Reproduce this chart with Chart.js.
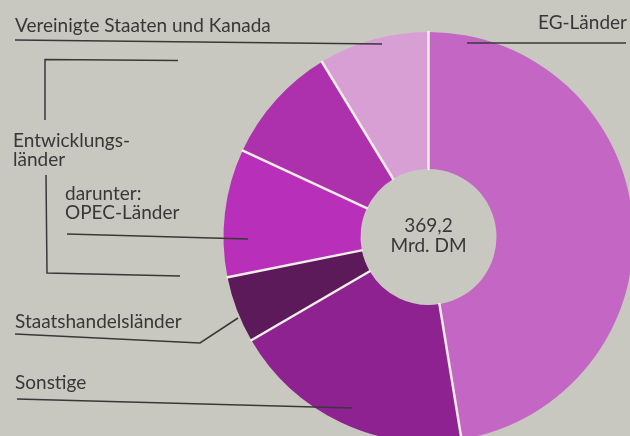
<!DOCTYPE html>
<html>
<head>
<meta charset="utf-8">
<script src="https://cdn.jsdelivr.net/npm/chart.js@4"></script>
<style>
  html, body { margin: 0; padding: 0; background: #c8c7c0; overflow: hidden; }
  #wrap { position: absolute; left: 0; top: 0; width: 630px; height: 436px; overflow: hidden; }
  canvas { position: absolute; left: 0; top: 0; }
</style>
</head>
<body>
<div id="wrap"><canvas id="ring" width="634" height="442"></canvas></div>
<script>
// Ausfuhr nach Ländergruppen, Mrd. DM (clockwise from top)
const categories = ["EG-Länder", "Sonstige", "Staatshandelsländer", "OPEC-Länder", "übrige Entwicklungsländer", "Vereinigte Staaten und Kanada"];
const values = [175.1, 70.8, 19.4, 37.2, 34.6, 32.1];
const totalLabel = ["369,2", "Mrd. DM"];

const sliceColors = ["#c466c4", "#8d2290", "#5c1a5a", "#b830b9", "#ad31ac", "#d89fd4"];
const ink = "#383838";
const font = "19px Lato";

// white gaps between the slices, taken from the arc elements
const separators = {
    id: "separators",
    afterDatasetsDraw(chart) {
        const ctx = chart.ctx;
        const arcs = chart.getDatasetMeta(0).data;
        ctx.save();
        ctx.strokeStyle = "#f4ede8";
        ctx.lineWidth = 2.5;
        arcs.forEach(function (arc) {
            const p = arc.getProps(["x", "y", "startAngle", "innerRadius", "outerRadius"], true);
            const cos = Math.cos(p.startAngle), sin = Math.sin(p.startAngle);
            ctx.beginPath();
            ctx.moveTo(p.x + cos * (p.innerRadius - 1), p.y + sin * (p.innerRadius - 1));
            ctx.lineTo(p.x + cos * (p.outerRadius + 1), p.y + sin * (p.outerRadius + 1));
            ctx.stroke();
        });
        ctx.restore();
    }
};

function line(ctx, pts) {
    ctx.beginPath();
    ctx.moveTo(pts[0][0], pts[0][1]);
    for (let i = 1; i < pts.length; i++) ctx.lineTo(pts[i][0], pts[i][1]);
    ctx.stroke();
}

// labels with their leader lines and the total in the hole
const labels = {
    id: "labels",
    afterDraw(chart) {
        const ctx = chart.ctx;
        const arc = chart.getDatasetMeta(0).data[0];
        ctx.save();
        ctx.fillStyle = ink;
        ctx.font = font;
        ctx.textBaseline = "alphabetic";

        ctx.textAlign = "left";
        ctx.fillText(categories[5], 15, 32);
        ctx.fillText("Entwicklungs-", 13, 147);
        ctx.fillText("länder", 13, 166);
        ctx.fillText("darunter:", 65, 200);
        ctx.fillText(categories[3], 65, 219);
        ctx.fillText(categories[2], 15, 328);
        ctx.fillText(categories[1], 15, 389);
        ctx.textAlign = "right";
        ctx.fillText(categories[0], 627, 29);

        ctx.textAlign = "center";
        ctx.fillText(totalLabel[0], arc.x, arc.y - 5);
        ctx.fillText(totalLabel[1], arc.x, arc.y + 15);

        ctx.strokeStyle = ink;
        ctx.lineWidth = 1.5;
        line(ctx, [[15, 40], [382, 44]]);
        line(ctx, [[467, 43], [626, 43]]);
        line(ctx, [[45, 120], [45, 59.5], [178, 60.5]]);
        line(ctx, [[46, 175], [47, 273], [180, 276]]);
        line(ctx, [[67, 234], [248, 239]]);
        line(ctx, [[15, 334], [200, 343], [238, 318]]);
        line(ctx, [[17, 399], [352, 408]]);
        ctx.restore();
    }
};

new Chart(document.getElementById("ring"), {
    type: "doughnut",
    data: {
        labels: categories,
        datasets: [{
            data: values,
            backgroundColor: sliceColors,
            borderWidth: 0
        }]
    },
    options: {
        responsive: false,
        animation: false,
        events: [],
        cutout: 68,
        layout: { padding: { left: 223, top: 32, right: 0, bottom: 0 } },
        plugins: {
            legend: { display: false },
            tooltip: { enabled: false }
        }
    },
    plugins: [separators, labels]
});
</script>
</body>
</html>
